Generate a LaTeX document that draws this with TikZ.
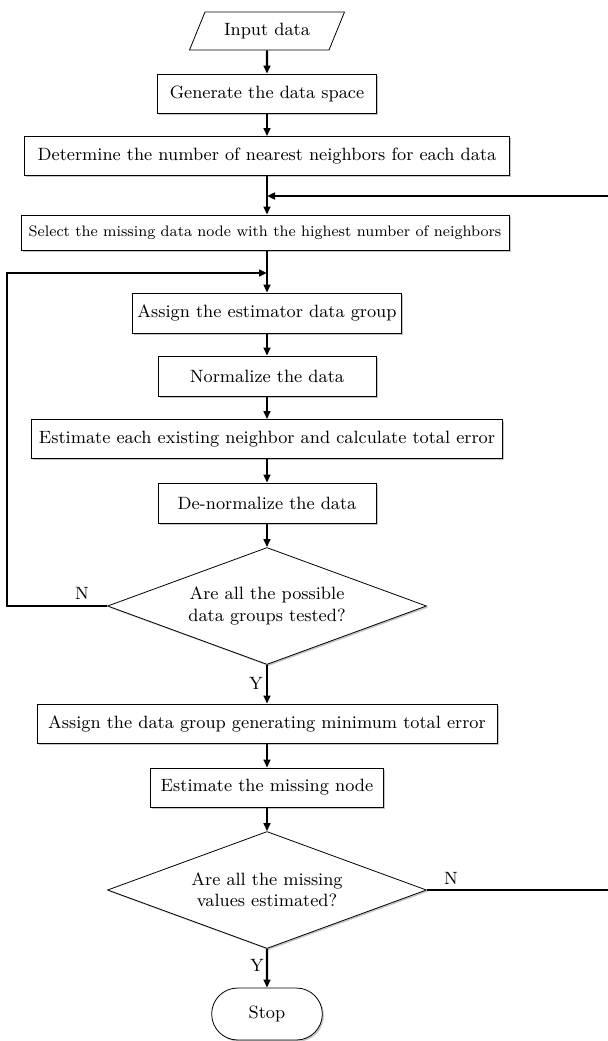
\documentclass[tikz,border=0pt]{standalone}
\usetikzlibrary{arrows.meta, shapes.geometric, shapes.misc, shadows}

\begin{document}
\begin{tikzpicture}[x=0.5pt, y=-0.5pt,
  txt/.style={font=\fontsize{8.9}{10.6}\selectfont},
  shade/.style={drop shadow={shadow xshift=0.8pt, shadow yshift=-0.8pt, opacity=0.45}},
  box/.style={draw, thin, fill=white, shade, txt, inner xsep=1pt, inner ysep=0pt, minimum height=19.5pt},
  io/.style={draw, thin, fill=white, txt, trapezium, trapezium left angle=62,
    trapezium right angle=118, trapezium stretches body, minimum width=77.5pt, minimum height=19pt},
  decide/.style={draw, thin, fill=white, shade, txt, diamond, aspect=2.7, inner sep=0pt,
    align=center, minimum width=159.5pt, minimum height=58.5pt},
  term/.style={draw, thin, fill=white, shade, txt, rounded rectangle, minimum width=62pt, minimum height=26pt},
  arr/.style={-{Triangle[length=4pt, width=3.4pt]}, line width=1.1pt},
  yn/.style={txt}]

% page
\useasboundingbox (0,0) rectangle (607,1041);

% input and the first steps
\node[io] (inp) at (267,31) {Input data};
\node[box, minimum width=109.5pt] (gen) at (267,93.5) {Generate the data space};
\node[box, minimum width=242.5pt] (det) at (267,156) {Determine the number of nearest neighbors for each data};
\node[box, minimum width=244pt, minimum height=17.5pt, font=\fontsize{7.6}{9.2}\selectfont] (sel) at (265,232.5) {Select the missing data node with the highest number of neighbors};

% inner loop over the data groups
\node[box, minimum width=134.5pt, minimum height=20pt] (asg) at (267,313) {Assign the estimator data group};
\node[box, minimum width=109pt, minimum height=20pt] (norm) at (267,376) {Normalize the data};
\node[box, minimum width=235.5pt] (est) at (267,439) {Estimate each existing neighbor and calculate total error};
\node[box, minimum width=109pt, minimum height=20pt] (denorm) at (267,503) {De-normalize the data};
\node[decide] (dec1) at (267,606) {Are all the possible\\data groups tested?};

% best group, estimate, second test
\node[box, minimum width=230pt] (best) at (267,723.5) {Assign the data group generating minimum total error};
\node[box, minimum width=116.5pt] (estm) at (267,787.5) {Estimate the missing node};
\node[decide] (dec2) at (267,890) {Are all the missing\\values estimated?};
\node[term] (stop) at (267,1014) {Stop};

% main line
\draw[arr] (inp) -- (gen);
\draw[arr] (gen) -- (det);
\draw[arr] (det) -- (det.south |- sel.north);
\draw[arr] (sel.south -| asg.north) -- (asg);
\draw[arr] (asg) -- (norm);
\draw[arr] (norm) -- (est);
\draw[arr] (est) -- (denorm);
\draw[arr] (denorm) -- (dec1);
\draw[arr] (dec1) -- (best);
\draw[arr] (best) -- (estm);
\draw[arr] (estm) -- (dec2);
\draw[arr] (dec2) -- (stop);

% loop back: N of the first test
\coordinate (lpL) at (7,273);
\coordinate (lpM) at (267,273);
\draw[arr] (dec1.west) -| (lpL) -- (lpM);

% loop back: N of the second test (runs past the right edge)
\coordinate (rpR) at (612,196);
\coordinate (rpM) at (267,196);
\draw[arr] (dec2.east) -| (rpR) -- (rpM);

% Y / N labels
\node[yn] (n1) at (82,593) {N};
\node[yn] (y1) at (256,683) {Y};
\node[yn] (n2) at (451,878) {N};
\node[yn] (y2) at (257,965) {Y};

\end{tikzpicture}
\end{document}
